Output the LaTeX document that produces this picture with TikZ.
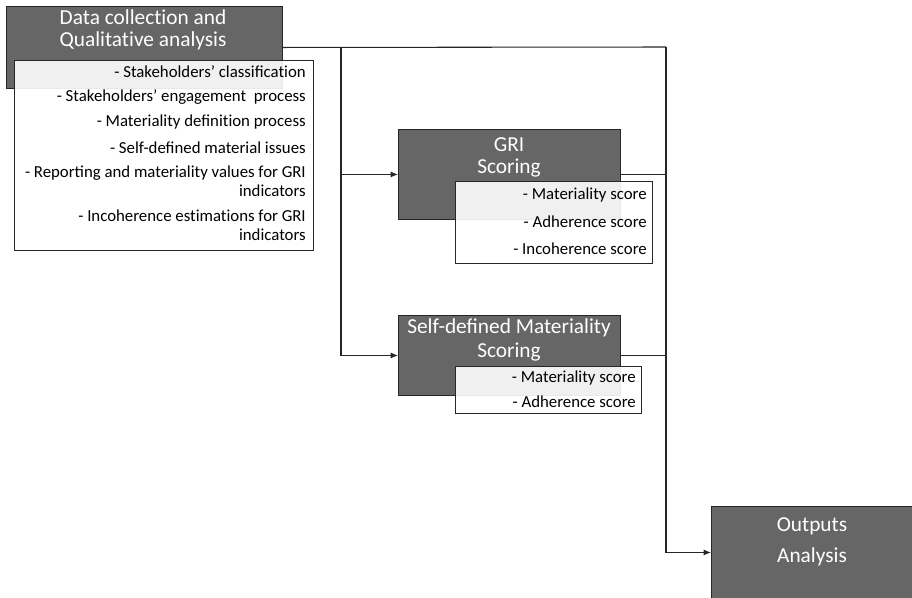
\documentclass[tikz,border=0pt]{standalone}
\usepackage{fontspec}
\setmainfont{Carlito}
\usetikzlibrary{arrows.meta,calc}
\definecolor{boxgray}{HTML}{666666}
\definecolor{linegray}{HTML}{262626}
\newcommand{\nolig}{\kern0pt}
\begin{document}
\begin{tikzpicture}[x=0.75pt,y=-0.75pt,
  darkbox/.style={draw=linegray,fill=boxgray,line width=0.7pt,anchor=north west,inner sep=0pt},
  listbox/.style={draw=linegray,fill=white,fill opacity=0.9,draw opacity=1,line width=0.7pt,anchor=north west,inner sep=0pt},
  title/.style={text=white,font=\fontsize{16}{18}\selectfont,inner sep=0pt},
  item/.style={text=black,font=\fontsize{12.6}{14}\selectfont,anchor=east,inner sep=0pt},
  conn/.style={draw=linegray,line width=0.8pt},
  arr/.style={conn,-{Latex[length=5.5pt,width=4.5pt]}}]
\useasboundingbox (0,0) rectangle (912,597);
% boxes
\node[darkbox,minimum width=207pt,minimum height=61.5pt] (data) at (6,6) {};
\node[listbox,minimum width=224.25pt,minimum height=142.5pt] (datalist) at (14,60) {};
\node[darkbox,minimum width=166.5pt,minimum height=67.5pt] (gri) at (398,129) {};
\node[listbox,minimum width=147.75pt,minimum height=61.5pt] (grilist) at (455,181) {};
\node[darkbox,minimum width=166.5pt,minimum height=60pt] (sd) at (398,315) {};
\node[listbox,minimum width=139.5pt,minimum height=35.25pt] (sdlist) at (455,366) {};
\node[darkbox,minimum width=151.5pt,minimum height=69pt] (out) at (711,506) {};
% titles
\node[title] (t1) at (143,17) {Data collect\nolig ion and};
\node[title] (t2) at (143,41) {Qualitat\nolig ive analysis};
\node[title] (t3) at (509,145) {GRI};
\node[title] (t4) at (509,168) {Scoring};
\node[title] (t5) at (509,328) {Self-defined Materiality};
\node[title] (t6) at (509,352) {Scoring};
\node[title] (t7) at (812,526) {Outputs};
\node[title] (t8) at (812,557) {Analysis};
% list texts
\node[item] (a1) at (306,72) {- Stakeholders’ classificat\nolig ion};
\node[item] (a2) at (306,97) {- Stakeholders’ engagement\ \ process};
\node[item] (a3) at (306,122) {- Materiality definit\nolig ion process};
\node[item] (a4) at (306,148) {- Self-defined material issues};
\node[item] (a5) at (306,173) {- Reporting and materiality values for GRI};
\node[item] (a6) at (306,191) {indicators};
\node[item] (a7) at (306,216) {- Incoherence est\nolig imat\nolig ions for GRI};
\node[item] (a8) at (306,235) {indicators};
\node[item] (b1) at (647,195) {- Materiality score};
\node[item] (b2) at (647,222) {- Adherence score};
\node[item] (b3) at (647,249) {- Incoherence score};
\node[item] (c1) at (636,378) {- Materiality score};
\node[item] (c2) at (636,402) {- Adherence score};
% connectors
\coordinate (j1) at (341,47);
\coordinate (j2) at (666,47);
\draw[conn] (data.east) -- (j2);
\draw[arr] (j2) |- (out.west);
\draw[arr] (j1) |- (gri.west);
\draw[arr] (j1) |- (sd.west);
\draw[conn] (gri.east) -- (gri.east -| j2);
\draw[conn] (sd.east) -- (sd.east -| j2);
\end{tikzpicture}
\end{document}
